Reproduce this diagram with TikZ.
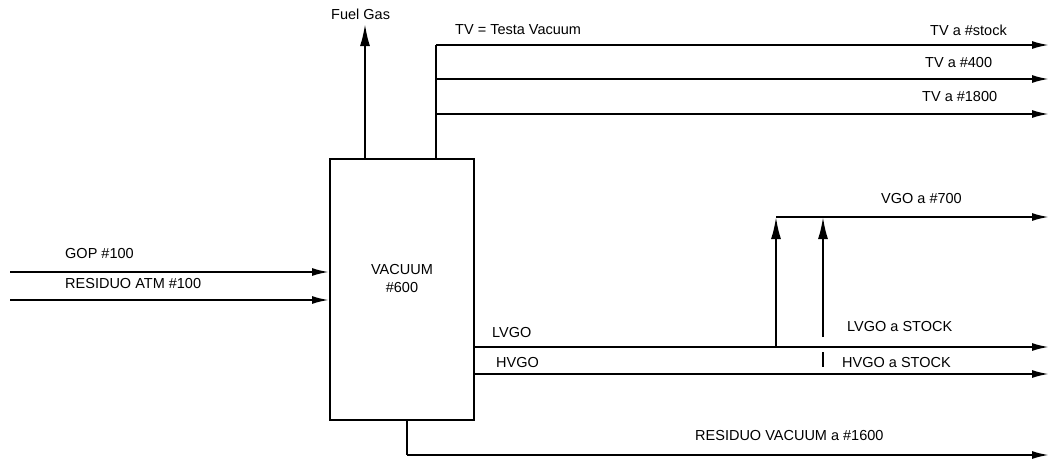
\documentclass[tikz,border=0pt]{standalone}
\usepackage{fontspec}
\setmainfont{Liberation Sans}
\usetikzlibrary{arrows.meta}
\begin{document}
\begin{tikzpicture}[x=1pt,y=-1pt,
  pipe/.style={line width=2pt},
  flow/.style={pipe,-{Latex[length=17pt,width=8pt]}},
  upflow/.style={pipe,-{Latex[length=22pt,width=10pt]}},
  lbl/.style={font=\fontsize{14.5}{16}\selectfont, inner sep=0pt, anchor=west},
  unit/.style={draw, line width=2pt, minimum width=144pt, minimum height=261pt, inner sep=0pt}]
\useasboundingbox (0,0) rectangle (1050,459);
% main unit
\node[unit] (vac) at (402,289.5) {};
\node[font=\fontsize{14.5}{18}\selectfont, align=center, inner sep=0pt] (vactxt) at (402,279) {VACUUM\\\#600};
% inputs
\coordinate (gopin) at (10,272);
\coordinate (resin) at (10,300);
\draw[flow] (gopin) -- (gopin -| vac.west);
\draw[flow] (resin) -- (resin -| vac.west);
\node[lbl] (lgop) at (65,254) {GOP \#100};
\node[lbl] (lres) at (65,284) {RESIDUO ATM \#100};
% fuel gas
\coordinate (fgb) at (365,159);
\coordinate (fgt) at (365,24);
\draw[upflow] (fgb) -- (fgt);
\node[lbl] (lfg) at (331,14) {Fuel Gas};
% testa vacuum
\coordinate (tvb) at (436,159);
\coordinate (tv1) at (436,45);
\coordinate (tv2) at (436,79);
\coordinate (tv3) at (436,114);
\coordinate (tv1e) at (1049,45);
\coordinate (tv2e) at (1049,79);
\coordinate (tv3e) at (1049,114);
\draw[pipe] (tvb) -- (tv1);
\draw[flow] (tv1) -- (tv1e);
\draw[flow] (tv2) -- (tv2e);
\draw[flow] (tv3) -- (tv3e);
\node[lbl] (ltv) at (455,30) {TV = Testa Vacuum};
\node[lbl] (ltv1) at (930,30) {TV a \#stock};
\node[lbl] (ltv2) at (925,63) {TV a \#400};
\node[lbl] (ltv3) at (922,97) {TV a \#1800};
% LVGO / HVGO
\coordinate (lv) at (474,347);
\coordinate (hv) at (474,374);
\coordinate (lve) at (1049,347);
\coordinate (hve) at (1049,374);
\draw[flow] (lv) -- (lve);
\draw[flow] (hv) -- (hve);
\node[lbl] (llv) at (492,333) {LVGO};
\node[lbl] (lhv) at (496,362) {HVGO};
\node[lbl] (llvs) at (847,327) {LVGO a STOCK};
\node[lbl] (lhvs) at (842,362) {HVGO a STOCK};
% VGO
\coordinate (vg1b) at (776,347);
\coordinate (vg1t) at (776,217);
\coordinate (vg2b) at (823,337);
\coordinate (vg2t) at (823,217);
\coordinate (vg2s) at (823,352);
\coordinate (vg2u) at (823,367);
\coordinate (vge) at (1049,217);
\draw[upflow] (vg1b) -- (vg1t);
\draw[upflow] (vg2b) -- (vg2t);
\draw[pipe] (vg2s) -- (vg2u);
\draw[flow] (vg1t) -- (vge);
\node[lbl] (lvg) at (881,199) {VGO a \#700};
% residuo vacuum
\coordinate (rvb) at (407,420);
\coordinate (rvc) at (407,455);
\coordinate (rve) at (1049,455);
\draw[pipe] (rvb) -- (rvc);
\draw[flow] (rvc) -- (rve);
\node[lbl] (lrv) at (695,435) {RESIDUO VACUUM a \#1600};
\end{tikzpicture}
\end{document}
